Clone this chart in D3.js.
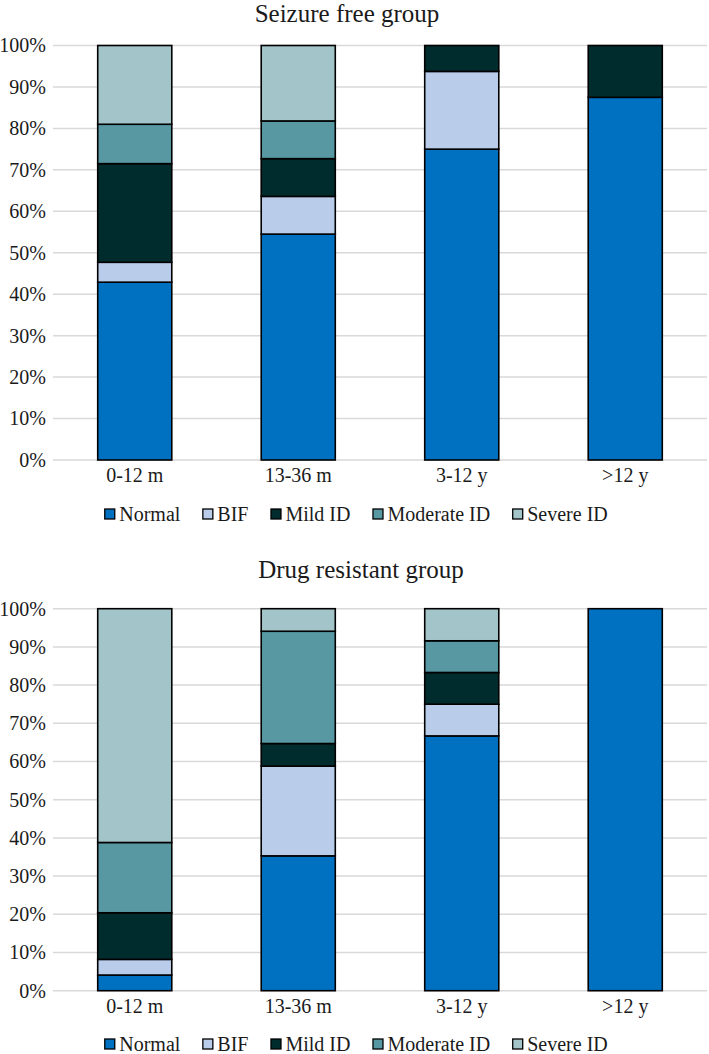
<!DOCTYPE html>
<html>
<head>
<meta charset="utf-8">
<title>Seizure free vs drug resistant</title>
<script src="https://d3js.org/d3.v7.min.js"></script>
<style>
  body { margin: 0; padding: 0; background: white; }
  svg { display: block; }
  svg text { font-family: "Liberation Serif", "Times New Roman", Times, serif !important; fill: #1a1a1a; }
</style>
</head>
<body>
<svg id="chart" width="709" height="1054"></svg>
<script>
// categories and series
var categories = ["0-12 m", "13-36 m", "3-12 y", ">12 y"];
var seriesNames = ["Normal", "BIF", "Mild ID", "Moderate ID", "Severe ID"];
var colors = ["#0070c0", "#b9cdea", "#012c2e", "#5798a3", "#a3c5ca"];
var tickValues = [0, 10, 20, 30, 40, 50, 60, 70, 80, 90, 100];

// seizure free group (%)
var sfNormal   = [42.9, 54.5, 75.0, 87.5];
var sfBIF      = [4.8, 9.1, 18.75, 0];
var sfMild     = [23.8, 9.1, 6.25, 12.5];
var sfModerate = [9.5, 9.1, 0, 0];
var sfSevere   = [19.0, 18.2, 0, 0];

// drug resistant group (%)
var drNormal   = [4.1, 35.3, 66.7, 100];
var drBIF      = [4.1, 23.5, 8.3, 0];
var drMild     = [12.2, 5.9, 8.3, 0];
var drModerate = [18.4, 29.4, 8.3, 0];
var drSevere   = [61.2, 5.9, 8.4, 0];

var serif = "'Liberation Serif', 'Times New Roman', Times, serif";
var svg = d3.select("#chart");

function buildRows(cols) {
    return categories.map(function(c, i) {
        var row = { cat: c };
        seriesNames.forEach(function(s, j) { row[s] = cols[j][i]; });
        return row;
    });
}

function drawPanel(opts) {
    var g = svg.append("g");
    var x = d3.scaleBand().domain(categories)
        .range([opts.left, opts.right])
        .paddingInner(0.547).paddingOuter(0.2735);
    var y = d3.scaleLinear().domain([0, 100]).range([opts.bottom, opts.top]);

    // gridlines
    g.selectAll("line.grid").data(tickValues).enter().append("line")
        .attr("x1", opts.left).attr("x2", opts.right)
        .attr("y1", function(d) { return y(d); })
        .attr("y2", function(d) { return y(d); })
        .attr("stroke", "#d9d9d9").attr("stroke-width", 1.5);

    // y axis labels
    var yAxis = d3.axisLeft(y).tickValues(tickValues)
        .tickFormat(function(d) { return d + "%"; })
        .tickSize(0).tickPadding(0);
    var ya = g.append("g").attr("transform", "translate(" + (opts.left - 7) + ",0)").call(yAxis)
        .attr("font-family", serif).attr("font-size", 20);
    ya.select(".domain").remove();

    // x axis labels
    var xAxis = d3.axisBottom(x).tickSize(0).tickPadding(0);
    var xa = g.append("g").attr("transform", "translate(0," + (opts.bottom + 8) + ")").call(xAxis)
        .attr("font-family", serif).attr("font-size", 20);
    xa.select(".domain").remove();

    // stacked bars
    var stack = d3.stack().keys(seriesNames);
    var layers = stack(buildRows(opts.values));
    g.selectAll("g.layer").data(layers).enter().append("g")
        .attr("fill", function(d, i) { return colors[i]; })
        .selectAll("rect")
        .data(function(d) { return d.filter(function(p) { return p[1] - p[0] > 0; }); })
        .enter().append("rect")
        .attr("x", function(d) { return x(d.data.cat); })
        .attr("width", x.bandwidth())
        .attr("y", function(d) { return y(d[1]); })
        .attr("height", function(d) { return y(d[0]) - y(d[1]); })
        .attr("stroke", "#000").attr("stroke-width", 1.6);

    // title
    svg.append("text").attr("x", opts.titleX).attr("y", opts.titleY)
        .attr("text-anchor", "middle").attr("font-size", 25)
        .attr("font-family", serif)
        .text(opts.title);

    // legend
    var lg = svg.append("g").attr("font-family", serif);
    var cursor = 0;
    seriesNames.forEach(function(s, i) {
        var item = lg.append("g").attr("transform", "translate(" + cursor + ",0)");
        item.append("rect").attr("x", 0.5).attr("y", -12).attr("width", 10).attr("height", 10)
            .attr("fill", colors[i]).attr("stroke", "#000").attr("stroke-width", 1.3);
        var t = item.append("text").attr("x", 15).attr("y", 0).attr("font-size", 20).text(s);
        cursor += 15 + t.node().getComputedTextLength() + 22;
    });
    var total = cursor - 22;
    lg.attr("transform", "translate(" + (356 - total / 2) + "," + opts.legendY + ")");
}

drawPanel({
    title: "Seizure free group", titleX: 347, titleY: 22,
    values: [sfNormal, sfBIF, sfMild, sfModerate, sfSevere],
    left: 53, right: 707, top: 45.5, bottom: 460, legendY: 521
});

drawPanel({
    title: "Drug resistant group", titleX: 361, titleY: 578,
    values: [drNormal, drBIF, drMild, drModerate, drSevere],
    left: 53, right: 707, top: 608.7, bottom: 990.7, legendY: 1051
});
</script>
</body>
</html>
